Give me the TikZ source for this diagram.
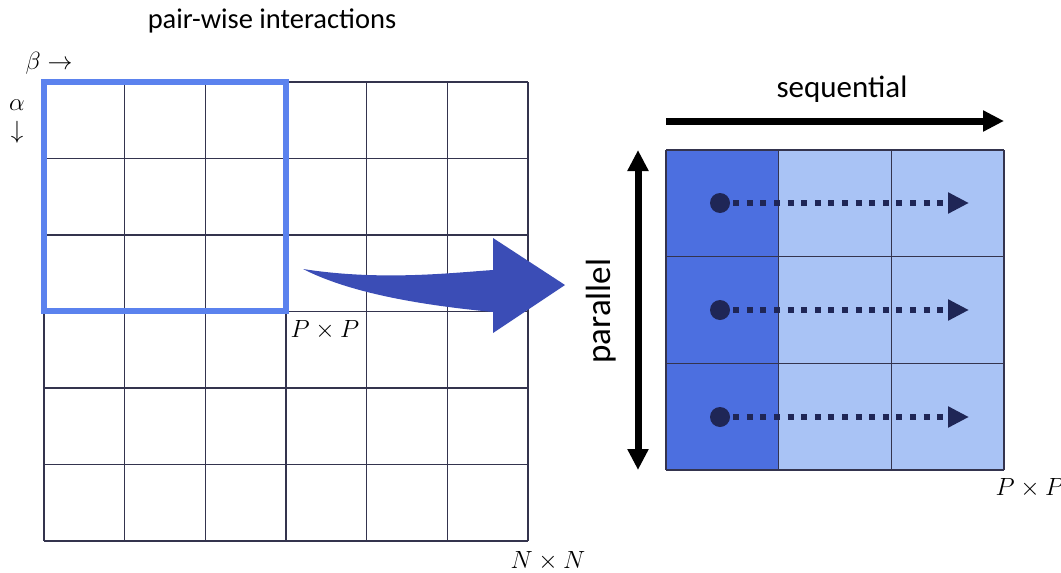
\documentclass[tikz,border=0pt]{standalone}
\usepackage{fontspec}
\setmainfont{Carlito}
\usetikzlibrary{arrows.meta}
\definecolor{gridc}{HTML}{34344E}
\definecolor{sqblue}{HTML}{5B82EE}
\definecolor{darkcol}{HTML}{4C6FE0}
\definecolor{lightcol}{HTML}{A9C3F5}
\definecolor{bigblue}{HTML}{3B4DB6}
\definecolor{navy}{HTML}{1F2656}
\tikzset{
  gridline/.style={draw=gridc, line width=1.1pt},
  bluesq/.style={draw=sqblue, line width=6pt},
  labeltext/.style={font=\fontsize{28.5}{32}\selectfont, inner sep=0pt},
  mathlabel/.style={font=\fontsize{23}{26}\selectfont, inner sep=0pt},
  thickarrow/.style={draw=black, line width=7pt, -{Triangle[length=21pt,width=20pt]}},
  dblarrow/.style={draw=black, line width=7pt, {Triangle[length=21pt,width=20pt]}-{Triangle[length=21pt,width=20pt]}},
  startdot/.style={circle, fill=navy, minimum size=20pt, inner sep=0pt},
  dotarrow/.style={draw=navy, line width=6pt, dash pattern=on 6pt off 7.6pt, shorten <=3pt, -{Triangle[length=21pt,width=20pt]}},
  bigarrow/.style={fill=bigblue}
}
\begin{document}
\begin{tikzpicture}[x=1pt,y=-1pt]
\useasboundingbox (0,0) rectangle (1061,573);

% left N x N grid
\foreach \i in {0,...,6} {
  \draw[gridline] ({44+\i*80.667},82) -- ({44+\i*80.667},541);
  \draw[gridline] (44,{82+\i*76.5}) -- (528,{82+\i*76.5});
}
\draw[bluesq] (44,82) rectangle (286,311);

% labels left
\node[labeltext] (title) at (272,21) {pair-wise interactions};
\node[mathlabel] (beta) at (49,63) {$\beta\rightarrow$};
\node[mathlabel, align=center] (alpha) at (17,122) {$\alpha$\\[2pt]$\downarrow$};
\node[mathlabel] (pp1) at (325,330) {$P\times P$};
\node[mathlabel] (nn) at (548,561) {$N\times N$};

% big curved arrow
\fill[bigarrow] (303,269) .. controls (380,281) and (450,273) .. (493,270)
  -- (493,238) -- (565,285) -- (493,333) -- (493,312)
  .. controls (420,305) and (350,293) .. (303,269) -- cycle;

% right P x P grid
\fill[darkcol] (666,150) rectangle (778,470);
\fill[lightcol] (778,150) rectangle (1004,470);
\foreach \i in {0,...,3} {
  \draw[gridline] ({666+\i*112.667},150) -- ({666+\i*112.667},470);
  \draw[gridline] (666,{150+\i*106.667}) -- (1004,{150+\i*106.667});
}

% sequential / parallel arrows
\coordinate (seqA) at (666,121);
\coordinate (seqB) at (1004,121);
\draw[thickarrow] (seqA) -- (seqB);
\node[labeltext, font=\fontsize{31}{34}\selectfont] (seq) at (842,89) {sequential};
\coordinate (parA) at (638,150);
\coordinate (parB) at (638,470);
\draw[dblarrow] (parA) -- (parB);
\node[labeltext, font=\fontsize{35}{39}\selectfont, rotate=90] (par) at (601,311) {parallel};

% dotted row arrows
\foreach \r/\y in {1/203,2/310,3/417} {
  \node[startdot] (d\r) at (720,\y) {};
  \coordinate (e\r) at (969,\y);
  \draw[dotarrow] (d\r.east) -- (e\r);
}
\node[mathlabel] (pp2) at (1030,488) {$P\times P$};
\end{tikzpicture}
\end{document}
